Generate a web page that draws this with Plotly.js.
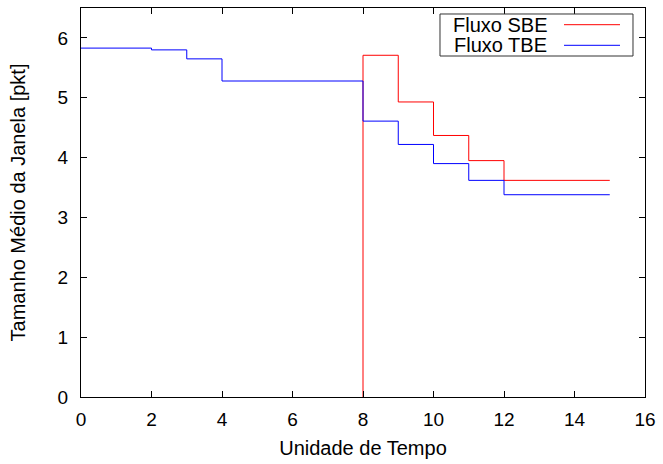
<!DOCTYPE html>
<html>
<head>
<meta charset="utf-8">
<script src="https://cdn.plot.ly/plotly-3.0.1.min.js"></script>
<style>html,body{margin:0;padding:0;background:#fff;}#chart{width:663px;height:464px;}</style>
</head>
<body>
<div id="chart"></div>
<script>
// Step data (gnuplot "steps": horizontal at y_i until next x, then vertical)
var sbeTime = [8, 8, 9, 10, 11, 12, 15];
var sbeWindow = [0, 5.71, 4.93, 4.37, 3.95, 3.62, 3.62];
var tbeTime = [0, 2, 3, 4, 8, 9, 10, 11, 12, 15];
var tbeWindow = [5.83, 5.80, 5.65, 5.28, 4.61, 4.22, 3.90, 3.62, 3.38, 3.38];
var seriesNames = ["Fluxo SBE", "Fluxo TBE"];
var seriesColors = ["#ff0000", "#0000ff"];
var xTicks = [0, 2, 4, 6, 8, 10, 12, 14, 16];
var yTicks = [0, 1, 2, 3, 4, 5, 6];

var font = "Liberation Sans, Arial, Helvetica, sans-serif";

var traces = [
  {x: sbeTime, y: sbeWindow, name: seriesNames[0], mode: "lines",
   line: {shape: "hv", color: seriesColors[0], width: 1}},
  {x: tbeTime, y: tbeWindow, name: seriesNames[1], mode: "lines",
   line: {shape: "hv", color: seriesColors[1], width: 1}}
];

// custom gnuplot-style legend (text on left, sample line on right)
var legY = [0.9571, 0.9041];
var shapes = [
  {type: "rect", xref: "paper", yref: "paper", x0: 0.6365, x1: 0.9787, y0: 0.8766, y1: 0.9846,
   line: {color: "#333", width: 1}, fillcolor: "#ffffff", layer: "above"}
];
var annotations = [];
for (var i = 0; i < seriesNames.length; i++) {
  shapes.push({type: "line", xref: "paper", yref: "paper", x0: 0.8564, x1: 0.9557, y0: legY[i], y1: legY[i],
    line: {color: seriesColors[i], width: 1}, layer: "above"});
  annotations.push({xref: "paper", yref: "paper", x: 0.83, y: legY[i], xanchor: "right", yanchor: "middle",
    text: seriesNames[i], showarrow: false, font: {family: font, size: 20, color: "#000"}});
}

var axisCommon = {
  showline: true, linecolor: "#000", linewidth: 1, mirror: "ticks",
  ticks: "inside", ticklen: 6, tickcolor: "#000", tickwidth: 1,
  showgrid: false, zeroline: false,
  tickfont: {family: font, size: 19, color: "#000"}
};

var layout = {
  width: 663, height: 464,
  margin: {l: 81, r: 18, t: 8, b: 67},
  paper_bgcolor: "#fff", plot_bgcolor: "#fff",
  showlegend: false,
  font: {family: font, size: 20, color: "#000"},
  xaxis: Object.assign({}, axisCommon, {
    range: [0, 16], tickvals: xTicks, ticktext: xTicks.map(String),
    ticklabelstandoff: 5,
    title: {text: "Unidade de Tempo", font: {family: font, size: 20, color: "#000"}, standoff: 12}
  }),
  yaxis: Object.assign({}, axisCommon, {
    range: [0, 6.5], tickvals: yTicks, ticktext: yTicks.map(String),
    ticklabelstandoff: 8,
    title: {text: "Tamanho Médio da Janela [pkt]", font: {family: font, size: 20, color: "#000"}, standoff: 26}
  }),
  shapes: shapes,
  annotations: annotations
};

Plotly.newPlot("chart", traces, layout, {displayModeBar: false, staticPlot: true});
</script>
</body>
</html>
